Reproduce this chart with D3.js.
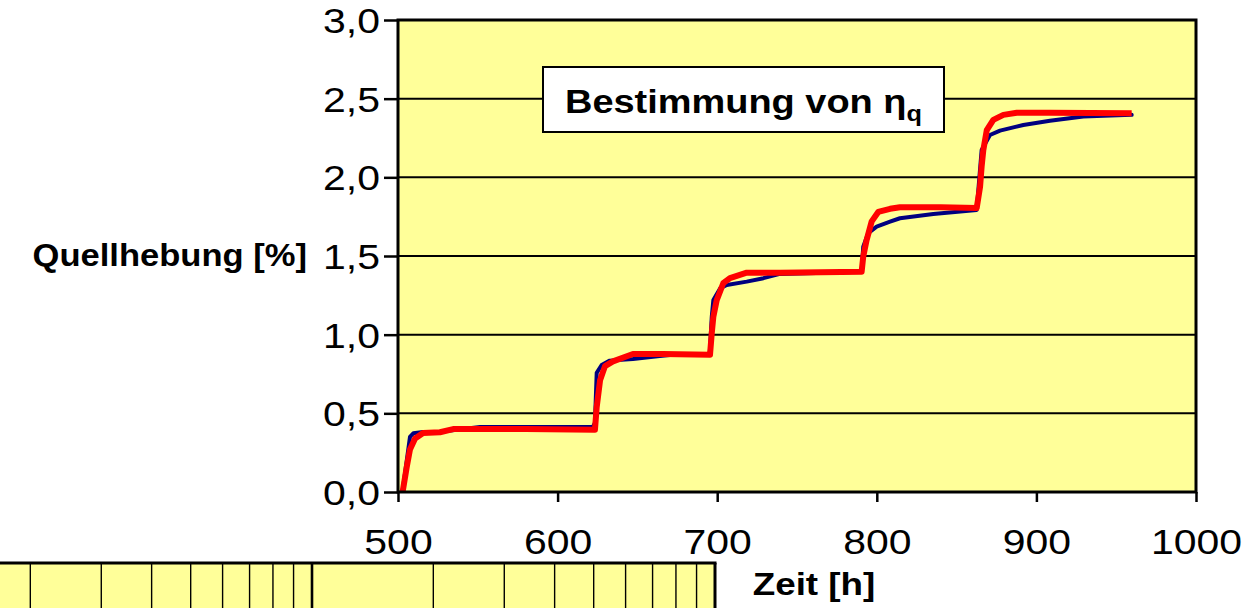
<!DOCTYPE html>
<html>
<head>
<meta charset="utf-8">
<script src="https://cdn.jsdelivr.net/npm/d3@7"></script>
<style>
  html, body { margin: 0; padding: 0; background: #ffffff; }
  svg { display: block; }
</style>
</head>
<body>
<svg id="chart" width="1248" height="608"></svg>
<script>
// Quellhebung (swelling strain, %) over time (h) — measured curve and fitted curve
const fitHours = [502.9, 505.5, 507.5, 510.7, 515.7, 526.3, 534.5, 553.3, 580.0, 623.4,
                  624.5, 626.6, 629.7, 634.7, 647.2, 666.0, 695.5,
                  696.6, 697.6, 699.7, 703.8, 708.0, 718.5, 739.3,
                  790.5, 791.5, 793.6, 796.8, 800.9, 808.3, 814.5, 840.0, 862.6,
                  864.7, 865.7, 866.7, 868.9, 873.0, 879.3, 887.7, 908.5, 959.7];
const fitSwell = [0.00, 0.16, 0.27, 0.34, 0.375, 0.38, 0.40, 0.40, 0.40, 0.395,
                  0.54, 0.71, 0.80, 0.83, 0.877, 0.877, 0.872,
                  1.01, 1.115, 1.22, 1.327, 1.36, 1.394, 1.394,
                  1.40, 1.496, 1.60, 1.72, 1.78, 1.80, 1.81, 1.81, 1.805,
                  1.94, 2.07, 2.17, 2.30, 2.365, 2.397, 2.41, 2.41, 2.407];

const measHours = [502.9, 507.5, 509.6, 515.7, 526.3, 551.4, 622.2, 623.4, 624.5, 627.6,
                   632.7, 647.2, 664.0, 676.7, 695.3, 696.6, 697.6, 701.9, 706.0, 718.5,
                   729.0, 739.3, 790.5, 791.5, 794.6, 799.9, 808.3, 814.5, 835.4, 862.6,
                   865.7, 870.9, 877.2, 891.8, 908.5, 929.4, 959.7];
const measSwell = [0.01, 0.35, 0.373, 0.381, 0.383, 0.413, 0.415, 0.44, 0.757, 0.807,
                   0.835, 0.846, 0.865, 0.877, 0.877, 1.114, 1.22, 1.295, 1.316, 1.337,
                   1.359, 1.386, 1.40, 1.559, 1.645, 1.687, 1.718, 1.74, 1.767, 1.793,
                   2.174, 2.269, 2.297, 2.333, 2.36, 2.386, 2.397];

const yTicks = [0, 0.5, 1.0, 1.5, 2.0, 2.5, 3.0];
const xTicks = [500, 600, 700, 800, 900, 1000];
// grid values of the logarithmic panel below the chart
const logGridValues = [2, 3, 4, 5, 6, 7, 8, 9, 10, 20, 30, 40, 50, 60, 70, 80, 90];

const titleMain = "Bestimmung von η";
const titleSub = "q";
const yTitle = "Quellhebung [%]";
const xTitle = "Zeit [h]";

// ---- layout ----
const FONT = "'Liberation Sans', Arial, Helvetica, sans-serif";
const SX_TICK = 1.17;       // horizontal stretch of the tick lettering
const SX_BOLD = 1.15;       // horizontal stretch of the bold titles
const plot = { left: 398, right: 1196, top: 20, bottom: 492 };
const fill = "#ffff99";

const de = d3.formatLocale({ decimal: ",", thousands: ".", grouping: [3], currency: ["", " €"] });
const fmtY = de.format(".1f");
const fmtX = de.format("d");

const svg = d3.select("#chart");

const x = d3.scaleLinear().domain([500, 1000]).range([plot.left, plot.right]);
const y = d3.scaleLinear().domain([0, 3]).range([plot.bottom, plot.top]);

// ---- logarithmic panel at the lower left ----
const strip = { left: -10, right: 715, top: 563, bottom: 640 };
const xl = d3.scaleLog().domain([1, 100]).range([-91, strip.right]);
const stripG = svg.append("g");
stripG.append("rect")
  .attr("x", strip.left).attr("y", strip.top)
  .attr("width", strip.right - strip.left).attr("height", strip.bottom - strip.top)
  .attr("fill", fill);
stripG.selectAll("line.lg").data(logGridValues).join("line")
  .attr("class", "lg")
  .attr("x1", d => xl(d)).attr("x2", d => xl(d))
  .attr("y1", strip.top).attr("y2", strip.bottom)
  .attr("stroke", "#000").attr("stroke-width", d => d === 10 ? 2.6 : 1.4);
stripG.append("line")
  .attr("x1", strip.left).attr("x2", xl(100) + 1.5)
  .attr("y1", strip.top).attr("y2", strip.top)
  .attr("stroke", "#000").attr("stroke-width", 3);
stripG.append("line")
  .attr("x1", xl(100)).attr("x2", xl(100))
  .attr("y1", strip.top).attr("y2", strip.bottom)
  .attr("stroke", "#000").attr("stroke-width", 3);

// ---- plot area ----
svg.append("rect")
  .attr("x", plot.left).attr("y", plot.top)
  .attr("width", plot.right - plot.left).attr("height", plot.bottom - plot.top)
  .attr("fill", fill);

svg.append("g").selectAll("line").data(yTicks.slice(1, -1)).join("line")
  .attr("x1", plot.left).attr("x2", plot.right)
  .attr("y1", d => y(d)).attr("y2", d => y(d))
  .attr("stroke", "#000").attr("stroke-width", 2);

// ---- series ----
const line = d3.line().x(d => x(d[0])).y(d => y(d[1]));
const meas = d3.zip(measHours, measSwell);
const fit = d3.zip(fitHours, fitSwell);

svg.append("path").datum(meas)
  .attr("d", line).attr("fill", "none")
  .attr("stroke", "#000080").attr("stroke-width", 4)
  .attr("stroke-linejoin", "round").attr("stroke-linecap", "round");
svg.append("path").datum(fit)
  .attr("d", line).attr("fill", "none")
  .attr("stroke", "#ff0000").attr("stroke-width", 6)
  .attr("stroke-linejoin", "round").attr("stroke-linecap", "butt");

// ---- frame ----
svg.append("rect")
  .attr("x", plot.left).attr("y", plot.top)
  .attr("width", plot.right - plot.left).attr("height", plot.bottom - plot.top)
  .attr("fill", "none").attr("stroke", "#000").attr("stroke-width", 3);

// ---- axes ----
const yAxis = svg.append("g")
  .attr("transform", `translate(${plot.left},0)`)
  .call(d3.axisLeft(y).tickValues(yTicks).tickSize(14).tickFormat(fmtY));
const xAxis = svg.append("g")
  .attr("transform", `translate(0,${plot.bottom})`)
  .call(d3.axisBottom(x).tickValues(xTicks).tickSize(10).tickFormat(fmtX));

[yAxis, xAxis].forEach(g => {
  g.select(".domain").remove();
  g.selectAll(".tick line").attr("stroke", "#000").attr("stroke-width", 2.5);
  g.selectAll("text")
    .attr("font-family", FONT).attr("font-size", 35).attr("fill", "#000");
});
yAxis.selectAll("text")
  .attr("x", -18 / SX_TICK).attr("dy", "0.36em")
  .attr("transform", `scale(${SX_TICK},1)`);
xAxis.selectAll("text")
  .attr("y", 62).attr("dy", 0)
  .attr("transform", `scale(${SX_TICK},1)`);

// ---- titles ----
function label(txt, px, py, anchor, size, sx) {
  return svg.append("text")
    .attr("transform", `translate(${px},${py}) scale(${sx},1)`)
    .attr("text-anchor", anchor)
    .attr("font-family", FONT).attr("font-weight", "bold")
    .attr("font-size", size).attr("fill", "#000")
    .text(txt);
}
label(yTitle, 307, 266, "end", 32, 1.08);
label(xTitle, 814, 595, "middle", 32, SX_BOLD);

// chart title in a framed box
svg.append("rect")
  .attr("x", 543).attr("y", 67).attr("width", 401).attr("height", 65)
  .attr("fill", "#ffffff").attr("stroke", "#000").attr("stroke-width", 2);
const t = label(titleMain, 565, 113, "start", 33, SX_BOLD);
t.append("tspan").attr("font-size", 22).attr("dy", 8).text(titleSub);
</script>
</body>
</html>
